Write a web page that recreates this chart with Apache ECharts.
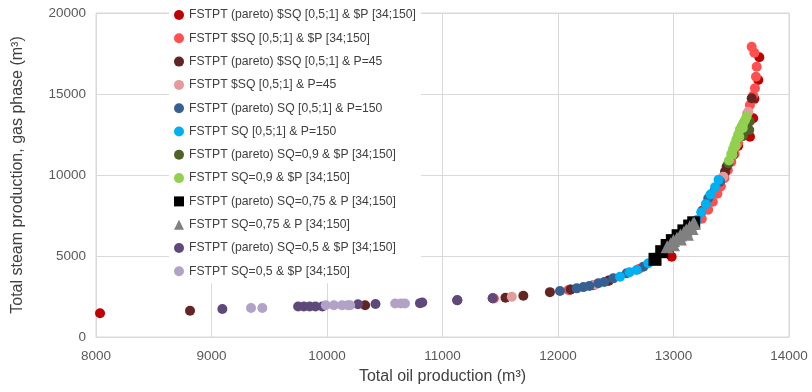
<!DOCTYPE html>
<html>
<head>
<meta charset="utf-8">
<script src="https://cdn.jsdelivr.net/npm/echarts@6/dist/echarts.min.js"></script>
<style>
  html, body { margin: 0; padding: 0; background: #fff; }
  #chart { width: 812px; height: 392px; }
</style>
</head>
<body>
<div id="chart"></div>
<script>
// axis ticks
const xTicks = [8000, 9000, 10000, 11000, 12000, 13000, 14000];
const yTicks = [0, 5000, 10000, 15000, 20000];

// series names (legend order)
const names = [
  'FSTPT (pareto) $SQ [0,5;1] & $P [34;150]',
  'FSTPT $SQ [0,5;1] & $P [34;150]',
  'FSTPT (pareto) $SQ [0,5;1] & P=45',
  'FSTPT $SQ [0,5;1] & P=45',
  'FSTPT (pareto) SQ [0,5;1] & P=150',
  'FSTPT SQ [0,5;1] & P=150',
  'FSTPT (pareto) SQ=0,9 & $P [34;150]',
  'FSTPT SQ=0,9 & $P [34;150]',
  'FSTPT (pareto) SQ=0,75 & P [34;150]',
  'FSTPT SQ=0,75 & P [34;150]',
  'FSTPT (pareto) SQ=0,5 & $P [34;150]',
  'FSTPT SQ=0,5 & $P [34;150]'
];

// [oil, steam]
const paretoSqP = [[8035, 1463], [11435, 2387], [12104, 2920], [12306, 3190], [12436, 3477], [12984, 4959],
  [13250, 7800], [13350, 8950], [13455, 10250], [13560, 11800], [13662, 12365], [13690, 13500],
  [13700, 14700], [13734, 15864], [13743, 17264]];
const sqP = [[11445, 2380], [12090, 2905], [12700, 4200], [13245, 7300], [13300, 7850], [13340, 8350],
  [13380, 8850], [13410, 9300], [13440, 9800], [13470, 10300], [13500, 10800], [13530, 11300],
  [13560, 12000], [13590, 12600], [13620, 13200], [13640, 13800], [13662, 14321], [13690, 14900],
  [13705, 15350], [13714, 16068], [13720, 16685], [13700, 17550], [13677, 17920]];
const paretoSqP45 = [[8814, 1623], [10330, 1955], [11128, 2263], [11545, 2428], [11700, 2551],
  [11930, 2770], [12110, 2930], [12440, 3480], [13446, 10206], [13460, 10513], [13677, 14733]];
const sqP45 = [[11600, 2490], [12320, 3230], [13431, 9898], [13648, 13909]];
const paretoSqP150 = [[12017, 2840], [12162, 3003], [12220, 3080], [12271, 3148], [12349, 3313],
  [12400, 3400], [12479, 3621], [12595, 3930], [12739, 4342], [13301, 8560], [13403, 9590]];
const sqP150 = [[12537, 3724], [12620, 4000], [12681, 4136], [12782, 4547], [12850, 4900],
  [13203, 7222], [13240, 7700], [13280, 8200], [13320, 8800], [13360, 9250], [13390, 9700]];
const paretoSq09 = [[13475, 10720], [13518, 11235], [13600, 12400], [13656, 12778], [13660, 13300]];
const sq09 = [[13480, 10900], [13500, 11300], [13515, 11600], [13530, 11900], [13545, 12200],
  [13560, 12500], [13575, 12800], [13590, 13000], [13605, 13200], [13620, 13400], [13633, 13600],
  [13510, 11250], [13540, 11800], [13570, 12350], [13600, 12900]];
const paretoSq075 = [[12840, 4795], [12898, 5267], [12945, 5650], [12990, 5950], [13040, 6250],
  [13090, 6550], [13140, 6850], [13175, 7050]];
const sq075 = [[12945, 5575], [12975, 5750], [13000, 5950], [13030, 6100], [13060, 6300],
  [13090, 6450], [13110, 6600], [13140, 6800], [13170, 7000], [13000, 5700], [13060, 6050],
  [13120, 6350], [13160, 6700], [13180, 7018]];
const paretoSq05 = [[9094, 1728], [9750, 1880], [9800, 1880], [9850, 1880], [9900, 1880], [9960, 1880],
  [10268, 2020], [10420, 2037], [10805, 2090], [10825, 2130], [11128, 2263], [11435, 2387]];
const sq05 = [[9342, 1790], [9440, 1790], [9990, 1965], [10060, 1965], [10130, 1965], [10180, 1965],
  [10200, 1965], [10590, 2070], [10640, 2070], [10675, 2070]];

const seriesData = [paretoSqP, sqP, paretoSqP45, sqP45, paretoSqP150, sqP150,
  paretoSq09, sq09, paretoSq075, sq075, paretoSq05, sq05];
const colors = ['#C00000', '#FF5050', '#632523', '#E39B9B', '#376092', '#00B0F0',
  '#4F6228', '#92D050', '#000000', '#808080', '#5F497A', '#B3A2C7'];
const symbols = ['circle', 'circle', 'circle', 'circle', 'circle', 'circle',
  'circle', 'circle', 'rect', 'triangle', 'circle', 'circle'];

const chart = echarts.init(document.getElementById('chart'));
const font = 'Liberation Sans, sans-serif';

chart.setOption({
  animation: false,
  color: colors,
  textStyle: { fontFamily: font },
  grid: { left: 96, right: 23, top: 13, bottom: 55, show: true, borderColor: '#D9D9D9', borderWidth: 1 },
  legend: {
    orient: 'vertical',
    left: 169,
    top: 3,
    itemWidth: 10,
    itemHeight: 10,
    itemGap: 9.3,
    itemTextGap: 10,
    backgroundColor: '#fff',
    data: names.map((n, i) => ({ name: n, icon: symbols[i] })),
    textStyle: { fontFamily: font, fontSize: 12.2, color: '#404040', lineHeight: 14 }
  },
  xAxis: {
    type: 'value',
    min: xTicks[0],
    max: xTicks[xTicks.length - 1],
    interval: 1000,
    name: 'Total oil production (m³)',
    nameLocation: 'middle',
    nameGap: 32,
    nameTextStyle: { fontFamily: font, fontSize: 16, color: '#404040' },
    axisLine: { show: true, lineStyle: { color: '#D9D9D9' } },
    axisTick: { show: false },
    axisLabel: { color: '#595959', fontSize: 13.5, margin: 12, fontFamily: font, formatter: v => String(v) },
    splitLine: { show: true, lineStyle: { color: '#D9D9D9' } }
  },
  yAxis: {
    type: 'value',
    min: yTicks[0],
    max: yTicks[yTicks.length - 1],
    interval: 5000,
    name: 'Total steam production, gas phase (m³)',
    nameLocation: 'middle',
    nameGap: 70,
    nameTextStyle: { fontFamily: font, fontSize: 16, color: '#404040' },
    axisLine: { show: true, lineStyle: { color: '#D9D9D9' } },
    axisTick: { show: false },
    axisLabel: { color: '#595959', fontSize: 13.5, margin: 10, fontFamily: font, formatter: v => String(v) },
    splitLine: { show: true, lineStyle: { color: '#D9D9D9' } }
  },
  series: seriesData.map((d, i) => ({
    name: names[i],
    type: 'scatter',
    symbol: symbols[i],
    symbolSize: symbols[i] === 'rect' ? 13 : (symbols[i] === 'triangle' ? 13 : 10),
    itemStyle: { color: colors[i], opacity: 1 },
    data: d
  }))
});
</script>
</body>
</html>
